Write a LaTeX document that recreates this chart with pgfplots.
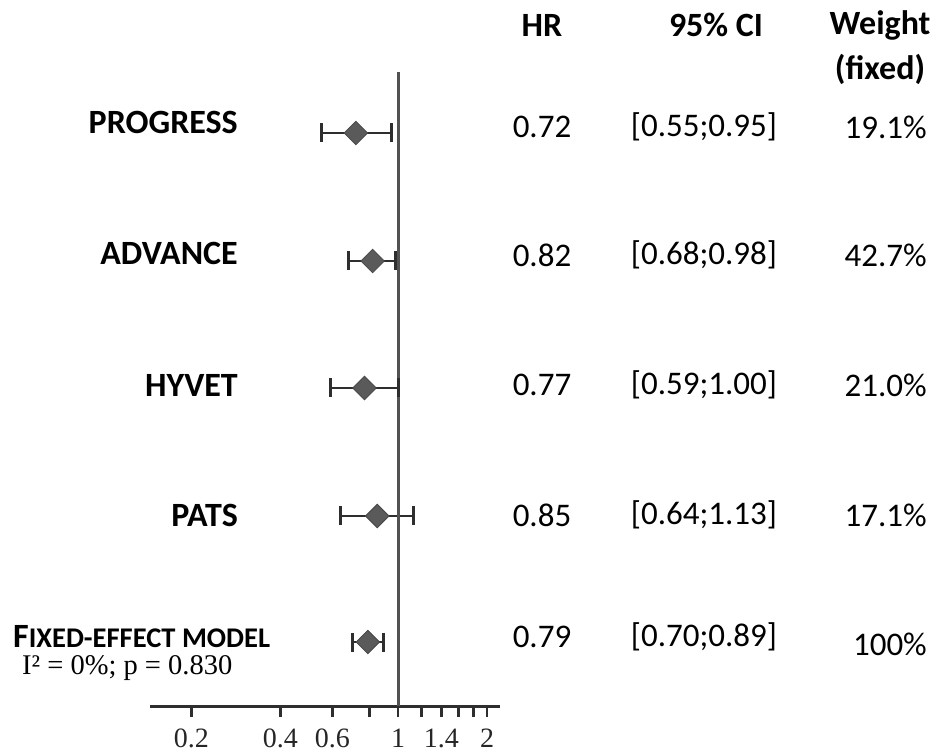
\documentclass[border=0pt]{standalone}
\usepackage{fontspec}
\setmainfont{Carlito}
\newfontfamily\serif{Liberation Serif}
\usepackage{pgfplots}
\pgfplotsset{compat=1.18}
\definecolor{dia}{HTML}{5A5A5A}
\definecolor{diaedge}{HTML}{474747}
\definecolor{bar}{HTML}{2E2E2E}
\newcommand\lab{\fontsize{34}{40}\selectfont\bfseries}
\newcommand\val{\fontsize{33}{40}\selectfont}
\begin{document}
\begin{tikzpicture}[x=1pt,y=1pt]
\useasboundingbox (0,0) rectangle (937,755);
\begin{axis}[
  at={(150pt,49pt)}, anchor=south west, scale only axis,
  width=350pt, height=634pt,
  xmode=log, xmin=0.145, xmax=2.21, ymin=49, ymax=683,
  axis x line*=bottom, axis y line=none,
  x axis line style={line width=3pt, color=bar, -},
  xtick={0.2,0.4,0.6,0.8,1,1.2,1.4,1.6,1.8,2},
  xticklabels={0.2,0.4,0.6,,1,,1.4,,,2},
  minor xtick={},
  tick align=outside, major tick length=11pt,
  xtick style={line width=2.5pt, color=bar},
  /pgf/number format/assume math mode=true,
  xticklabel style={font=\serif\fontsize{28}{32}\selectfont, inner sep=0pt, yshift=-12pt, color=black!85},
  clip=false,
]
% confidence intervals
\addplot[bar, line width=2.8pt, mark=|, mark size=9.5pt, mark options={line width=2.8pt}] coordinates {(0.55,622) (0.95,622)};
\addplot[bar, line width=2.8pt, mark=|, mark size=9.5pt, mark options={line width=2.8pt}] coordinates {(0.68,494) (0.98,494)};
\addplot[bar, line width=2.8pt, mark=|, mark size=9.5pt, mark options={line width=2.8pt}] coordinates {(0.59,367) (1.00,367)};
\addplot[bar, line width=2.8pt, mark=|, mark size=9.5pt, mark options={line width=2.8pt}] coordinates {(0.64,239) (1.13,239)};
\addplot[bar, line width=2.8pt, mark=|, mark size=9.5pt, mark options={line width=2.8pt}] coordinates {(0.70,113) (0.89,113)};
% line of no effect
\addplot[black!68, line width=3pt] coordinates {(1,49) (1,683)};
% point estimates
\addplot[only marks, mark=square*, mark size=8.3pt, mark options={rotate=45, fill=dia, draw=diaedge, line width=0.8pt}]
  coordinates {(0.72,622) (0.82,494) (0.77,367) (0.85,239) (0.79,113)};
\end{axis}
% study labels
\node[anchor=east, inner sep=0pt] at (238,633) {\lab PROGRESS};
\node[anchor=east, inner sep=0pt] at (238,502) {\lab ADVANCE};
\node[anchor=east, inner sep=0pt] at (238,370) {\lab HYVET};
\node[anchor=east, inner sep=0pt] at (238,240) {\lab PATS};
\node[anchor=west, inner sep=0pt] at (13,118) {\bfseries{\fontsize{34}{38}\selectfont F}{\fontsize{28.5}{32}\selectfont IXED-EFFECT MODEL}};
\node[anchor=west, inner sep=0pt] at (22,87) {\serif\fontsize{28.5}{32}\selectfont I² = 0\%; p = 0.830};
% headers
\node[inner sep=0pt] at (542,730) {\lab HR};
\node[inner sep=0pt] at (716,730) {\lab 95\% CI};
\node[inner sep=0pt] at (880,730) {\lab Weight};
\node[inner sep=0pt] at (880,686) {\lab (fixed)};
% HR
\node[inner sep=0pt] at (542,628) {\val 0.72};
\node[inner sep=0pt] at (542,500) {\val 0.82};
\node[inner sep=0pt] at (542,370) {\val 0.77};
\node[inner sep=0pt] at (542,240) {\val 0.85};
\node[inner sep=0pt] at (542,118) {\val 0.79};
% CI
\node[inner sep=0pt] at (704,628) {\val [0.55;0.95]};
\node[inner sep=0pt] at (704,500) {\val [0.68;0.98]};
\node[inner sep=0pt] at (704,370) {\val [0.59;1.00]};
\node[inner sep=0pt] at (704,240) {\val [0.64;1.13]};
\node[inner sep=0pt] at (704,118) {\val [0.70;0.89]};
% weights
\node[anchor=east, inner sep=0pt] at (927,628) {\val 19.1\%};
\node[anchor=east, inner sep=0pt] at (927,500) {\val 42.7\%};
\node[anchor=east, inner sep=0pt] at (927,370) {\val 21.0\%};
\node[anchor=east, inner sep=0pt] at (927,240) {\val 17.1\%};
\node[anchor=east, inner sep=0pt] at (927,111) {\val 100\%};
\end{tikzpicture}
\end{document}
